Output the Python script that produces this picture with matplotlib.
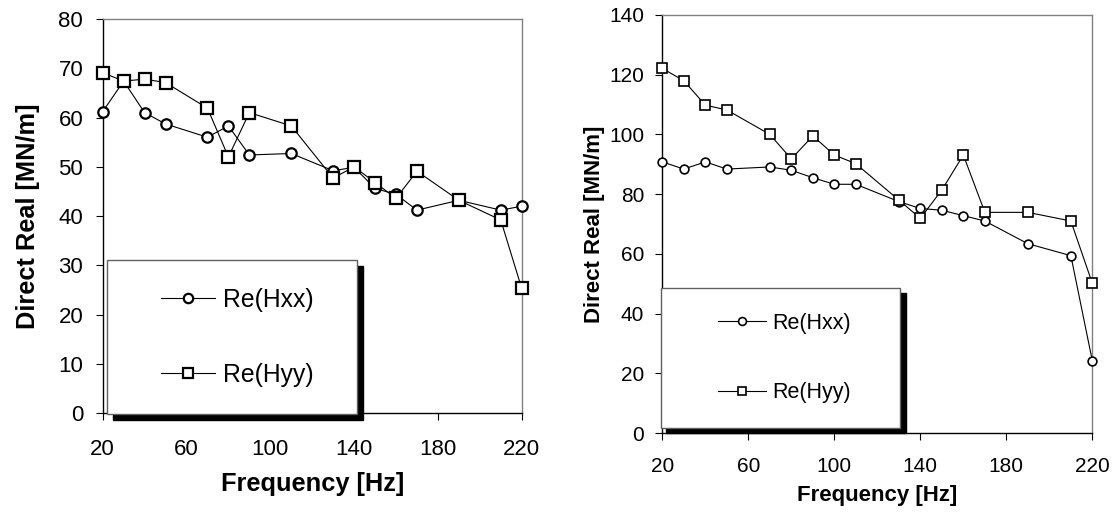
import matplotlib
matplotlib.use("Agg")
import matplotlib.pyplot as plt
import matplotlib.patches as mpatches

plt.rcParams["font.family"] = ["Liberation Sans", "DejaVu Sans"]

# left panel data
freq_l = [20, 30, 40, 50, 70, 80, 90, 110, 130, 140, 150, 160, 170, 190, 210, 220]
hxx_l = [61.2, 67.4, 61.0, 58.7, 56.0, 58.3, 52.4, 52.7, 49.2, 49.9, 45.6, 44.4, 41.2, 43.2, 41.2, 42.0]
hyy_l = [69.1, 67.4, 67.8, 67.1, 61.9, 52.0, 61.0, 58.3, 47.7, 50.0, 46.8, 43.6, 49.1, 43.2, 39.2, 25.3]

# right panel data
freq_r = [20, 30, 40, 50, 70, 80, 90, 100, 110, 130, 140, 150, 160, 170, 190, 210, 220]
hxx_r = [90.8, 88.4, 90.8, 88.4, 89.1, 88.0, 85.5, 83.3, 83.3, 77.5, 75.2, 74.6, 72.8, 71.0, 63.4, 59.4, 24.1]
hyy_r = [122.1, 118.0, 109.8, 108.2, 100.0, 91.8, 99.5, 93.1, 90.2, 78.0, 71.9, 81.4, 93.1, 73.9, 73.9, 71.0, 50.1]

xticks = [20, 60, 100, 140, 180, 220]
labels = ["Re(Hxx)", "Re(Hyy)"]


def panel(ax, x, hxx, hyy, ymax, ystep, fs, lfs, legfs, ms, mew, box, shadow, leg_anchor,
          leg_space, xpad, ypad, xlpad, ylpad):
    l1, = ax.plot(x, hxx, color="black", lw=0.8, marker="o", ms=ms, mfc="white",
                  mec="black", mew=mew, clip_on=False, zorder=3)
    l2, = ax.plot(x, hyy, color="black", lw=0.8, marker="s", ms=ms + 0.6, mfc="white",
                  mec="black", mew=mew, clip_on=False, zorder=3)
    ax.set_xlim(20, 220)
    ax.set_ylim(0, ymax)
    ax.set_xticks(xticks)
    ax.set_yticks(range(0, ymax + 1, ystep))
    ax.tick_params(direction="out", length=5, width=0.8, labelsize=fs, color="black")
    ax.tick_params(axis="x", pad=xpad)
    ax.tick_params(axis="y", pad=ypad)
    for s in ["left", "bottom"]:
        ax.spines[s].set_color("black")
        ax.spines[s].set_linewidth(1.0)
    for s in ["top", "right"]:
        ax.spines[s].set_color("#808080")
        ax.spines[s].set_linewidth(1.0)
    ax.set_xlabel("Frequency [Hz]", fontsize=lfs, fontweight="bold", labelpad=xlpad)
    ax.set_ylabel("Direct Real [MN/m]", fontsize=lfs, fontweight="bold", labelpad=ylpad)

    # legend box with black drop shadow
    x0, y0, x1, y1 = box
    dx, dy = shadow
    ax.add_patch(mpatches.Rectangle((x0 + dx, y0 + dy), x1 - x0, y1 - y0, transform=ax.transAxes,
                                    facecolor="black", edgecolor="black", clip_on=False, zorder=5))
    ax.add_patch(mpatches.Rectangle((x0, y0), x1 - x0, y1 - y0, transform=ax.transAxes,
                                    facecolor="white", edgecolor="#606060", lw=1.0,
                                    clip_on=False, zorder=6))
    leg = ax.legend([l1, l2], labels, loc="center left", bbox_to_anchor=leg_anchor,
                    frameon=False, fontsize=legfs, labelspacing=leg_space,
                    handlelength=2.2, handletextpad=0.3, borderpad=0, borderaxespad=0,
                    markerscale=0.9)
    leg.set_zorder(7)


fig = plt.figure(figsize=(11.15, 5.15), dpi=100)
ax1 = fig.add_axes([0.0921, 0.198, 0.3758, 0.765])
ax2 = fig.add_axes([0.594, 0.1592, 0.3857, 0.8117])

panel(ax1, freq_l, hxx_l, hyy_l, 80, 10, 16, 18.3, 17.8, 7.5, 1.6,
      (0.0095, -0.003, 0.606, 0.388), (0.0143, -0.0152), (0.139, 0.192), 2.05,
      14, 9, 8, 13)
panel(ax2, freq_r, hxx_r, hyy_r, 140, 20, 15, 16, 15.5, 6.3, 1.2,
      (-0.004, 0.0127, 0.553, 0.348), (0.013, -0.013), (0.130, 0.179), 2.25,
      12, 8, 7, 3)

fig.savefig("out.png", dpi=100, facecolor="white")
